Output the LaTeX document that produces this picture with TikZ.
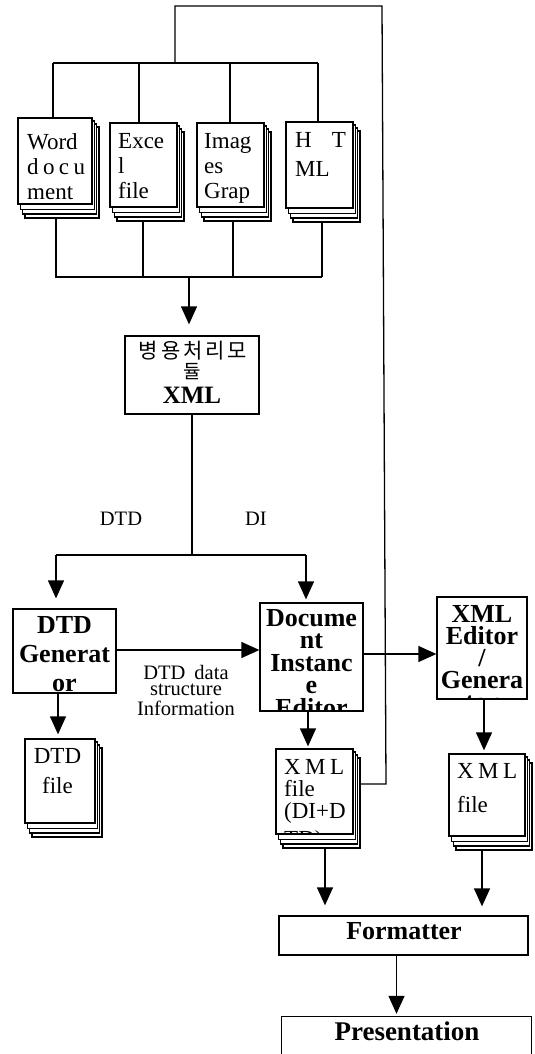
\documentclass[tikz,border=0pt]{standalone}
\usepackage{fontspec}
\setmainfont{Liberation Serif}
\newfontfamily\krfont[LetterSpace=14]{Noto Sans CJK KR}
\usetikzlibrary{arrows.meta,fit,calc}
\newcommand{\ls}{\hspace{4.4pt}}
\tikzset{
  x=1pt,y=-1pt,
  conn/.style={draw=black,line width=1.3pt},
  arr/.style={conn,-{Triangle[length=18pt,width=16pt]}},
  sheet/.style={draw=black,fill=white,inner sep=0pt,line width=1.3pt},
  doctext/.style={inner sep=0pt,anchor=north west,align=left,font=\fontsize{23}{25}\selectfont},
  ctext/.style={inner sep=0pt,anchor=north,align=center},
  boldtext/.style={ctext,font=\fontsize{26}{22.5}\selectfont\bfseries},
  note/.style={inner sep=0pt,align=center,font=\fontsize{20.5}{18}\selectfont},
}
% filled box from its two corners
\newcommand{\fitbox}[5]{%
  \coordinate (#1-a) at (#2,#3);
  \coordinate (#1-b) at (#4,#5);
  \node[sheet,fit=(#1-a)(#1-b)] (#1) {};
}
% stack of pages: name, x1, y1, x2, y2
\newcommand{\stackdoc}[5]{%
  \pgfmathsetmacro{\xa}{#2}\pgfmathsetmacro{\ya}{#3}\pgfmathsetmacro{\xb}{#4}\pgfmathsetmacro{\yb}{#5}%
  \pgfmathsetmacro{\xc}{\xa+7}\pgfmathsetmacro{\yc}{\ya+9}\pgfmathsetmacro{\xd}{\xb+7}\pgfmathsetmacro{\yd}{\yb+14}%
  \fitbox{#1-3}{\xc}{\yc}{\xd}{\yd}%
  \pgfmathsetmacro{\xc}{\xa+4.5}\pgfmathsetmacro{\yc}{\ya+6}\pgfmathsetmacro{\xd}{\xb+4.5}\pgfmathsetmacro{\yd}{\yb+10}%
  \fitbox{#1-2}{\xc}{\yc}{\xd}{\yd}%
  \pgfmathsetmacro{\xc}{\xa+2.2}\pgfmathsetmacro{\yc}{\ya+3}\pgfmathsetmacro{\xd}{\xb+2.2}\pgfmathsetmacro{\yd}{\yb+5.5}%
  \fitbox{#1-1}{\xc}{\yc}{\xd}{\yd}%
  \fitbox{#1}{#2}{#3}{#4}{#5}%
}
\begin{document}
\begin{tikzpicture}
\useasboundingbox (0,0) rectangle (535,1054);

% page stacks
\stackdoc{word}{18}{118}{92}{204}
\stackdoc{excel}{110}{123}{177}{207}
\stackdoc{image}{197}{123}{264}{207}
\stackdoc{html}{286}{122}{353}{208}
\stackdoc{dtdf}{25}{739}{95}{823}
\stackdoc{xmlf}{276}{749}{353}{834}
\stackdoc{xmlg}{449}{754}{525}{836}

% boxes
\fitbox{merge}{125}{336}{259}{414}
\fitbox{gen}{13}{609}{116}{693}
\fitbox{inst}{260}{603}{363}{711}
\fitbox{edit}{437}{597}{527}{699}
\fitbox{fmt}{279}{916}{528}{955}

% open-bottomed box
\coordinate (pa) at (282,1054);
\coordinate (pb) at (531,1017);
\node[inner sep=0pt,fit=(pa)(pb)] (pres) {};
\draw[conn] (pres.south west) -- (pres.north west) -- (pres.north east) -- (pres.south east);

% texts in page stacks
\node[doctext] (tword) at (27,133) {\rule{0pt}{15pt}Word\\d\ls o\ls c\ls u\\ment};
\node[doctext] (texcel) at (118,133) {\rule{0pt}{15pt}Exce\\l\\file};
\node[doctext] (timage) at (204,133) {\rule{0pt}{15pt}Imag\\es\\Grap};
\node[doctext] (thtml) at (295,132) {\rule{0pt}{15pt}H\hspace{20pt}T\\[4pt]ML};
\node[doctext,align=center,anchor=north,font=\fontsize{23}{30}\selectfont] (tdtdf) at (57.5,748) {\rule{0pt}{15pt}DTD\\file};
\begin{scope}
  \clip (xmlf.south west) rectangle (xmlf.north east);
  \node[doctext,font=\fontsize{23}{22}\selectfont] (txmlf) at (284,759) {\rule{0pt}{15pt}X\ls M\ls L\\file\\(DI+D\\[6pt]TD)};
\end{scope}
\node[doctext,font=\fontsize{23}{34}\selectfont] (txmlg) at (457,763) {\rule{0pt}{15pt}X\ls M\ls L\\file};

% texts in boxes
\node[inner sep=0pt,anchor=base] (tmerge1) at (193,358) {\krfont\fontsize{21}{21}\selectfont 병용처리모};
\node[inner sep=0pt,anchor=base] (tmerge2) at (192,378) {\fontspec{Noto Sans CJK KR}\fontsize{19}{19}\selectfont 듈};
\node[ctext,font=\fontsize{25}{25}\selectfont\bfseries,anchor=base] (tmerge3) at (192,403) {XML};
\begin{scope}
  \clip (gen.south west) rectangle (gen.north east);
  \node[boldtext,font=\fontsize{26}{29}\selectfont\bfseries] (tgen) at (64.5,616) {\rule{0pt}{17pt}DTD\\Generat\\or};
\end{scope}
\begin{scope}
  \clip (inst.south west) rectangle (inst.north east);
  \node[boldtext] (tinst) at (311.5,609) {\rule{0pt}{17pt}Docume\\nt\\Instanc\\e\\Editor};
\end{scope}
\begin{scope}
  \clip (edit.south west) rectangle (edit.north east);
  \node[boldtext,font=\fontsize{26}{22}\selectfont\bfseries] (tedit) at (482,605) {\rule{0pt}{17pt}XML\\Editor\\/\\Genera\\tor};
\end{scope}
\node[font=\fontsize{26}{26}\selectfont\bfseries,inner sep=0pt,anchor=base] (tfmt) at (404,939) {Formatter};
\node[font=\fontsize{27}{27}\selectfont\bfseries,inner sep=0pt,anchor=base] (tpres) at (407,1040) {Presentation};

% free labels
\node[note,anchor=base] (ldtd) at (121,525) {DTD};
\node[note,anchor=base] (ldi) at (256,525) {DI};
\node[note,anchor=north] (linfo) at (186,665) {\rule{0pt}{14pt}DTD\hspace{9pt}data\\[-2pt]structure\\[2pt]Information};

% junction coordinates
\coordinate (topc) at (175,63);
\coordinate (topl) at (53,63);
\coordinate (topx) at (139,63);
\coordinate (topi) at (230,63);
\coordinate (topr) at (318,63);
\coordinate (rail1) at (175,6);
\coordinate (rail2) at (382,6);
\coordinate (rail3) at (386,784);
\coordinate (botl) at (56,277);
\coordinate (botx) at (143,277);
\coordinate (boti) at (233,277);
\coordinate (botr) at (322,277);
\coordinate (botc) at (189,277);
\coordinate (spl) at (192,555);
\coordinate (spa) at (56,555);
\coordinate (spb) at (306,555);

% top distribution
\draw[conn] (topl) -- (topr);
\draw[conn] (topl) -- (topl |- word.north);
\draw[conn] (topx) -- (topx |- excel.north);
\draw[conn] (topi) -- (topi |- image.north);
\draw[conn] (topr) -- (topr |- html.north);
\draw[conn] (xmlf-3.east |- rail3) -- (rail3) -- (rail2) -- (rail1) -- (topc);

% bottom collection
\draw[conn] (botl |- word-3.south) -- (botl) -- (botr);
\draw[conn] (botx |- excel-3.south) -- (botx);
\draw[conn] (boti |- image-3.south) -- (boti);
\draw[conn] (botr |- html-3.south) -- (botr);
\draw[arr,shorten >=11pt] (botc) -- (botc |- merge.north);

% split
\draw[conn] (spl |- merge.south) -- (spl);
\draw[conn] (spa) -- (spb);
\draw[arr,shorten >=10pt] (spa) -- (spa |- gen.north);
\draw[arr,shorten >=3pt] (spb) -- (spb |- inst.north);

% lower flow
\coordinate (ya) at (0,650);
\coordinate (yb) at (0,654);
\coordinate (xa) at (58,0);
\coordinate (xb) at (308,0);
\coordinate (xc) at (484,0);
\coordinate (xd) at (325,0);
\coordinate (xe) at (482,0);
\coordinate (xf) at (396.5,0);
\draw[arr] (gen.east |- ya) -- (inst.west |- ya);
\draw[arr] (inst.east |- yb) -- (edit.west |- yb);
\draw[arr,shorten >=4pt] (gen.south -| xa) -- (dtdf.north -| xa);
\draw[arr,shorten >=2pt] (inst.south -| xb) -- (xmlf.north -| xb);
\draw[arr,shorten >=3pt] (edit.south -| xc) -- (xmlg.north -| xc);
\draw[arr,shorten >=10pt] (xmlf-3.south -| xd) -- (fmt.north -| xd);
\draw[arr,shorten >=9pt] (xmlg-3.south -| xe) -- (fmt.north -| xe);
\draw[arr,shorten >=3pt] (fmt.south -| xf) -- (pres.north -| xf);
\end{tikzpicture}
\end{document}
